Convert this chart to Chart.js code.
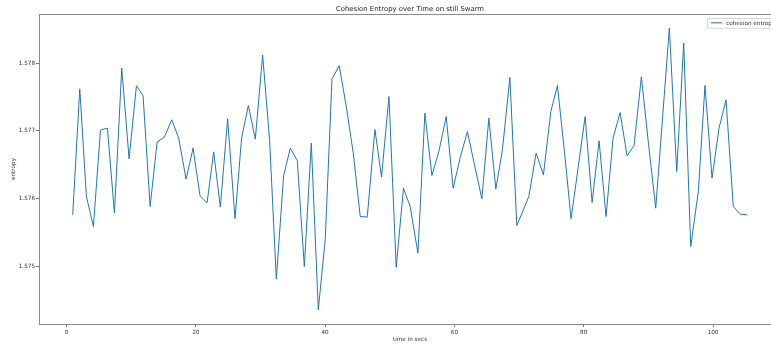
<!DOCTYPE html>
<html>
<head>
<meta charset="utf-8">
<script src="https://cdn.jsdelivr.net/npm/chart.js@4/dist/chart.umd.min.js"></script>
<style>
  html, body { margin: 0; padding: 0; background: #fff; overflow: hidden; }
  #wrap { width: 771px; height: 346px; overflow: hidden; }
  canvas { display: block; }
</style>
</head>
<body>
<div id="wrap"><canvas id="c" width="800" height="346" style="width:800px;height:346px"></canvas></div>
<script>
// Sample times (seconds) and cohesion entropy readings
const times = [0.97, 2.06, 3.09, 4.17, 5.26, 6.34, 7.42, 8.55, 9.69, 10.82, 11.85, 12.94, 14.02, 15.15, 16.28, 17.36,
  18.50, 19.58, 20.66, 21.75, 22.77, 23.80, 24.93, 26.07, 27.09, 28.13, 29.21, 30.34, 31.42, 32.46, 33.59, 34.62,
  35.70, 36.79, 37.87, 38.95, 40.03, 41.07, 42.19, 43.28, 44.36, 45.44, 46.52, 47.71, 48.73, 49.88, 51.00, 52.13,
  53.17, 54.36, 55.44, 56.52, 57.60, 58.73, 59.81, 60.90, 62.02, 63.11, 64.25, 65.33, 66.41, 67.43, 68.58, 69.66,
  71.51, 72.64, 73.77, 74.92, 75.94, 77.02, 78.05, 79.13, 80.22, 81.30, 82.38, 83.46, 84.54, 85.63, 86.71, 87.79,
  88.92, 90.00, 91.14, 92.23, 93.25, 94.39, 95.47, 96.55, 97.73, 98.76, 99.85, 100.93, 102.01, 103.14, 104.22, 105.30];

const entropy = [1.575763, 1.577621, 1.576032, 1.575590, 1.577012, 1.577041, 1.575788, 1.577926, 1.576589, 1.577665,
  1.577522, 1.575885, 1.576835, 1.576909, 1.577164, 1.576894, 1.576289, 1.576746, 1.576043, 1.575940,
  1.576692, 1.575876, 1.577178, 1.575704, 1.576894, 1.577375, 1.576879, 1.578118, 1.576870, 1.574814,
  1.576342, 1.576746, 1.576564, 1.575000, 1.576820, 1.574361, 1.575409, 1.577768, 1.577960, 1.577360,
  1.576673, 1.575738, 1.575729, 1.577021, 1.576319, 1.577507, 1.574990, 1.576156, 1.575885, 1.575198,
  1.577263, 1.576342, 1.576696, 1.577212, 1.576156, 1.576608, 1.576991, 1.576500, 1.575999, 1.577189,
  1.576142, 1.576721, 1.577788, 1.575605, 1.576032, 1.576673, 1.576353, 1.577286, 1.577670, 1.576696,
  1.575704, 1.576451, 1.577212, 1.575944, 1.576854, 1.575738, 1.576894, 1.577271, 1.576633, 1.576785,
  1.577798, 1.576829, 1.575861, 1.577237, 1.578516, 1.576401, 1.578295, 1.575295, 1.576107, 1.577670,
  1.576304, 1.577041, 1.577459, 1.575885, 1.575773, 1.575763];

const xTicks = [0, 20, 40, 60, 80, 100];
const yTicks = [1.575, 1.576, 1.577, 1.578];

const titleText = 'Cohesion Entropy over Time on still Swarm';
const seriesLabel = 'cohesion entropy';
const xLabel = 'time in secs';
const yLabel = 'entropy';

const FONT = "'DejaVu Sans', sans-serif";
const LINE_BLUE = '#1f77b4';
const SPINE = '#8a8a8a';
const TEXT = '#333333';

// Axis limits padded by 5% of the data span on every side
function padded(arr) {
  const lo = Math.min(...arr), hi = Math.max(...arr);
  const m = (hi - lo) * 0.05;
  return [lo - m, hi + m];
}
const [xMin, xMax] = padded(times);
const [yMin, yMax] = padded(entropy);

const points = times.map((t, i) => ({ x: t, y: entropy[i] }));

// Frame, title and legend box drawn around the plot area
const decorations = {
  id: 'decorations',
  afterDatasetsDraw(chart) {
    const { ctx, chartArea: a } = chart;
    ctx.save();
    ctx.strokeStyle = SPINE;
    ctx.lineWidth = 1;
    ctx.strokeRect(Math.round(a.left) + 0.5, Math.round(a.top) + 0.5,
      Math.round(a.right - a.left), Math.round(a.bottom - a.top));

    // title
    ctx.fillStyle = '#222';
    ctx.font = `6.9px ${FONT}`;
    ctx.textAlign = 'center';
    ctx.textBaseline = 'alphabetic';
    ctx.fillText(titleText, (a.left + a.right) / 2, a.top - 3.3);

    // legend
    const ds = chart.data.datasets[0];
    ctx.font = `5.7px ${FONT}`;
    const tw = ctx.measureText(ds.label).width;
    const right = a.right - 3;
    const left = right - 2.7 - tw - 4 - 11 - 4;
    const top = a.top + 4;
    const h = 9.7;
    ctx.fillStyle = 'rgba(255,255,255,0.85)';
    ctx.fillRect(left, top, right - left, h);
    ctx.strokeStyle = '#cccccc';
    ctx.lineWidth = 0.8;
    ctx.strokeRect(left + 0.5, top + 0.5, right - left, h);
    ctx.strokeStyle = ds.borderColor;
    ctx.lineWidth = 1;
    ctx.beginPath();
    ctx.moveTo(left + 4, top + h / 2);
    ctx.lineTo(left + 15, top + h / 2);
    ctx.stroke();
    ctx.fillStyle = TEXT;
    ctx.textAlign = 'left';
    ctx.textBaseline = 'middle';
    ctx.fillText(ds.label, left + 19, top + h / 2 + 0.3);
    ctx.restore();
  }
};

new Chart(document.getElementById('c'), {
  type: 'line',
  data: {
    datasets: [{
      label: seriesLabel,
      data: points,
      borderColor: LINE_BLUE,
      backgroundColor: LINE_BLUE,
      borderWidth: 1,
      pointRadius: 0,
      tension: 0,
      fill: false
    }]
  },
  options: {
    responsive: false,
    animation: false,
    devicePixelRatio: 1,
    layout: { padding: { left: 0, top: 14, right: 19, bottom: 0 } },
    plugins: {
      legend: { display: false },
      title: { display: false },
      tooltip: { enabled: false }
    },
    scales: {
      x: {
        type: 'linear',
        min: xMin,
        max: xMax,
        afterBuildTicks: s => { s.ticks = xTicks.map(v => ({ value: v })); },
        afterFit: s => { s.height = 22; },
        ticks: {
          font: { family: FONT, size: 5.7 },
          color: TEXT,
          padding: 2,
          maxRotation: 0,
          callback: v => String(v)
        },
        grid: { drawOnChartArea: false, drawTicks: true, tickLength: 3, tickColor: '#555', tickWidth: 0.8 },
        border: { display: true, color: SPINE, width: 1 },
        title: {
          display: true,
          text: xLabel,
          font: { family: FONT, size: 5.7 },
          color: TEXT,
          padding: { top: 0, bottom: 3 }
        }
      },
      y: {
        type: 'linear',
        min: yMin,
        max: yMax,
        afterBuildTicks: s => { s.ticks = yTicks.map(v => ({ value: v })); },
        afterFit: s => { s.width = 39; },
        ticks: {
          font: { family: FONT, size: 5.7 },
          color: TEXT,
          padding: 1,
          callback: v => v.toFixed(3)
        },
        grid: { drawOnChartArea: false, drawTicks: true, tickLength: 3, tickColor: '#555', tickWidth: 0.8 },
        border: { display: true, color: SPINE, width: 1 },
        title: {
          display: true,
          text: yLabel,
          font: { family: FONT, size: 5.7 },
          color: TEXT,
          padding: { top: 10, bottom: 0 }
        }
      }
    }
  },
  plugins: [decorations]
});
</script>
</body>
</html>
